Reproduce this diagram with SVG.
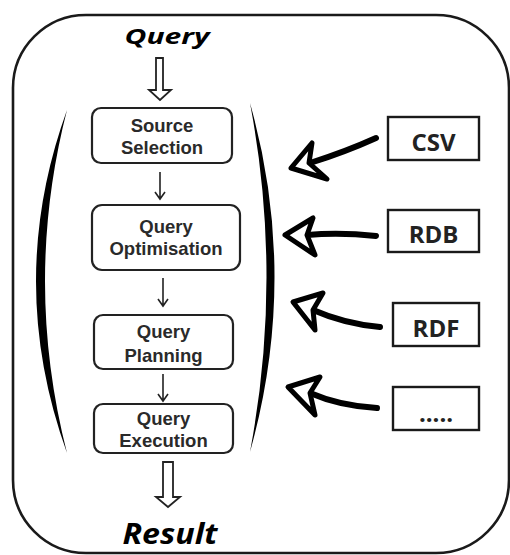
<svg xmlns="http://www.w3.org/2000/svg" width="510" height="555" viewBox="0 0 510 555">
<defs>
<style>
.frame{fill:#fff;stroke:#1a1a1a;stroke-width:2.6}
.step{fill:#fff;stroke:#222;stroke-width:2.2}
.src{fill:#fff;stroke:#1a1a1a;stroke-width:2.4}
.stext{font-family:"Liberation Sans",Arial,sans-serif;font-weight:bold;font-size:18.5px;fill:#2a2a2a;text-anchor:middle}
.dtext{font-family:"Open Sans",sans-serif;font-weight:bold;font-size:24px;fill:#222;text-anchor:middle}
.io{font-family:"Open Sans",sans-serif;font-weight:bold;font-style:italic;fill:#000;text-anchor:middle}
.hollow{fill:#fff;stroke:#222;stroke-width:1.8;stroke-linejoin:miter}
.thin{fill:none;stroke:#222;stroke-width:1.6}
.shaft{fill:none;stroke:#000;stroke-width:6;stroke-linecap:round}
.head{fill:#fff;stroke:#000;stroke-width:5;stroke-linejoin:round}
.bracket{fill:#000;stroke:none}
</style>
</defs>
<rect width="510" height="555" fill="#fff"/>
<rect class="frame" x="13" y="15" width="496" height="538" rx="73" ry="73"/>

<g id="brackets">
<path class="bracket" d="M67,110 Q5,281 67,453 Q23,281 67,110 Z"/>
<path class="bracket" d="M250,103 Q299,277 250,452 Q283,277 250,103 Z"/>
</g>

<g id="query-label"><text class="io" x="167" y="44" font-size="21" textLength="85" lengthAdjust="spacingAndGlyphs">Query</text></g>
<g id="result-label"><text class="io" x="170" y="544" font-size="28" textLength="95" lengthAdjust="spacingAndGlyphs">Result</text></g>

<g id="source-selection">
<rect class="step" x="92" y="108" width="140" height="55" rx="9"/>
<text class="stext" x="162" y="132">Source</text>
<text class="stext" x="162" y="154">Selection</text>
</g>
<g id="query-optimisation">
<rect class="step" x="92" y="205" width="148" height="65" rx="10"/>
<text class="stext" x="166" y="233">Query</text>
<text class="stext" x="166" y="255">Optimisation</text>
</g>
<g id="query-planning">
<rect class="step" x="94" y="315" width="139" height="54" rx="9"/>
<text class="stext" x="163.5" y="338">Query</text>
<text class="stext" x="163.5" y="362">Planning</text>
</g>
<g id="query-execution">
<rect class="step" x="94" y="404" width="139" height="49" rx="9"/>
<text class="stext" x="163.5" y="425">Query</text>
<text class="stext" x="163.5" y="447">Execution</text>
</g>

<g id="csv"><rect class="src" x="388" y="117" width="91" height="43"/><text class="dtext" x="433.5" y="151">CSV</text></g>
<g id="rdb"><rect class="src" x="388" y="210" width="91" height="42"/><text class="dtext" x="433.5" y="243">RDB</text></g>
<g id="rdf"><rect class="src" x="393" y="303" width="86" height="43"/><text class="dtext" x="436" y="337">RDF</text></g>
<g id="more"><rect class="src" x="393" y="387" width="86" height="43"/><text class="dtext" x="436" y="422">.....</text></g>

<g id="connectors">
<polygon class="hollow" points="156,58 163,58 163,90 171,90 160,100 149,90 156,90"/>
<polygon class="hollow" points="163,462 173,462 173,497 180,497 168,507 156,497 163,497"/>
<path class="thin" d="M160,172 V198 M155,192 L160,199 L165,192"/>
<path class="thin" d="M163,278 V305 M158,299 L163,306 L168,299"/>
<path class="thin" d="M163,374 V400 M158,394 L163,401 L168,394"/>

<path class="shaft" d="M376,138 Q345,152 310,163"/>
<path class="head" d="M291,168 L312,143 L309,163 L327,179 Z"/>
<path class="shaft" d="M376,236 Q340,232 307,235"/>
<path class="head" d="M285,235 L313,218 L307,235 L315,255 Z"/>
<path class="shaft" d="M380,327 Q345,324 313,310"/>
<path class="head" d="M293,302 L323,293 L313,310 L315,330 Z"/>
<path class="shaft" d="M377,408 Q340,406 310,393"/>
<path class="head" d="M288,387 L320,377 L310,393 L315,415 Z"/>
</g>
</svg>
